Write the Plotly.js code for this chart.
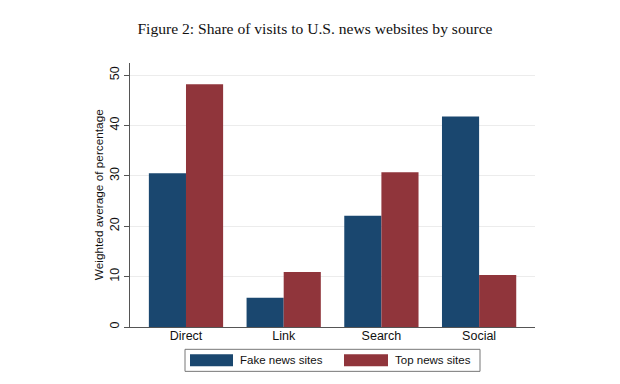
<!DOCTYPE html>
<html><head><meta charset="utf-8">
<script src="https://cdn.plot.ly/plotly-3.0.1.min.js"></script>
<style>html,body{margin:0;padding:0;background:#fff}#chart{width:620px;height:384px}</style>
</head><body><div id="chart"></div>
<script>
const categories = ["Direct", "Link", "Search", "Social"];
const fakeNews = [30.5, 5.8, 22.1, 41.8];
const topNews = [48.2, 10.9, 30.7, 10.3];
const seriesNames = ["Fake news sites", "Top news sites"];
const yTicks = [0, 10, 20, 30, 40, 50];
const yTitle = "Weighted average of percentage";

const blue = "#1a476f", red = "#90353b";
const font = "Liberation Sans, Arial, sans-serif";

const traces = [
  {type: "bar", x: categories, y: fakeNews, name: seriesNames[0], marker: {color: blue, line: {width: 0}}, showlegend: false, hoverinfo: "none"},
  {type: "bar", x: categories, y: topNews, name: seriesNames[1], marker: {color: red, line: {width: 0}}, showlegend: false, hoverinfo: "none"}
];

// plot area in pixels: x 130..535, y 63..326.7
const px = v => (v - 130) / 405;
const py = v => (326.7 - v) / (326.7 - 63);

const legendShapes = [
  {type: "rect", xref: "paper", yref: "paper", x0: px(185), x1: px(480), y0: py(371), y1: py(349), line: {color: "#777", width: 1}, fillcolor: "rgba(0,0,0,0)"},
  {type: "rect", xref: "paper", yref: "paper", x0: px(190), x1: px(233), y0: py(366), y1: py(354), line: {width: 0}, fillcolor: blue},
  {type: "rect", xref: "paper", yref: "paper", x0: px(344), x1: px(388), y0: py(366), y1: py(354), line: {width: 0}, fillcolor: red}
];

const anns = [
  {xref: "paper", yref: "paper", x: px(238), y: py(360), xanchor: "left", yanchor: "middle", text: seriesNames[0], showarrow: false, font: {family: font, size: 11.5, color: "#111"}},
  {xref: "paper", yref: "paper", x: px(393), y: py(360), xanchor: "left", yanchor: "middle", text: seriesNames[1], showarrow: false, font: {family: font, size: 11.5, color: "#111"}},
  {xref: "paper", yref: "paper", x: px(99), y: py(195), xanchor: "center", yanchor: "middle", textangle: -90, text: yTitle, showarrow: false, font: {family: font, size: 11.8, color: "#111"}}
];

const layout = {
  width: 620, height: 384,
  paper_bgcolor: "#fff", plot_bgcolor: "#fff",
  margin: {l: 130, r: 85, t: 63, b: 57.3},
  title: {text: "Figure 2: Share of visits to U.S. news websites by source", font: {family: "Liberation Serif, Times New Roman, serif", size: 15.6, color: "#111"}, x: 0.508, xanchor: "center", y: 0.925, yanchor: "middle"},
  barmode: "group", bargap: 0.24, bargroupgap: 0,
  showlegend: false,
  xaxis: {
    type: "category", range: [-0.573, 3.572], showgrid: false, zeroline: false,
    showline: true, linecolor: "#555", linewidth: 1, ticks: "", ticklabelstandoff: -3,
    tickfont: {family: font, size: 12.5, color: "#111"}, fixedrange: true
  },
  yaxis: {
    range: [0, 52.4], tickvals: yTicks, ticktext: yTicks.map(String), tickangle: -90,
    showgrid: true, gridcolor: "#ececec", gridwidth: 1, zeroline: false,
    showline: true, linecolor: "#555", linewidth: 1, ticks: "outside", ticklen: 5, tickcolor: "#555",
    tickfont: {family: font, size: 12.5, color: "#111"},
    fixedrange: true
  },
  shapes: legendShapes,
  annotations: anns
};

Plotly.newPlot("chart", traces, layout, {staticPlot: true, displayModeBar: false});
</script></body></html>
